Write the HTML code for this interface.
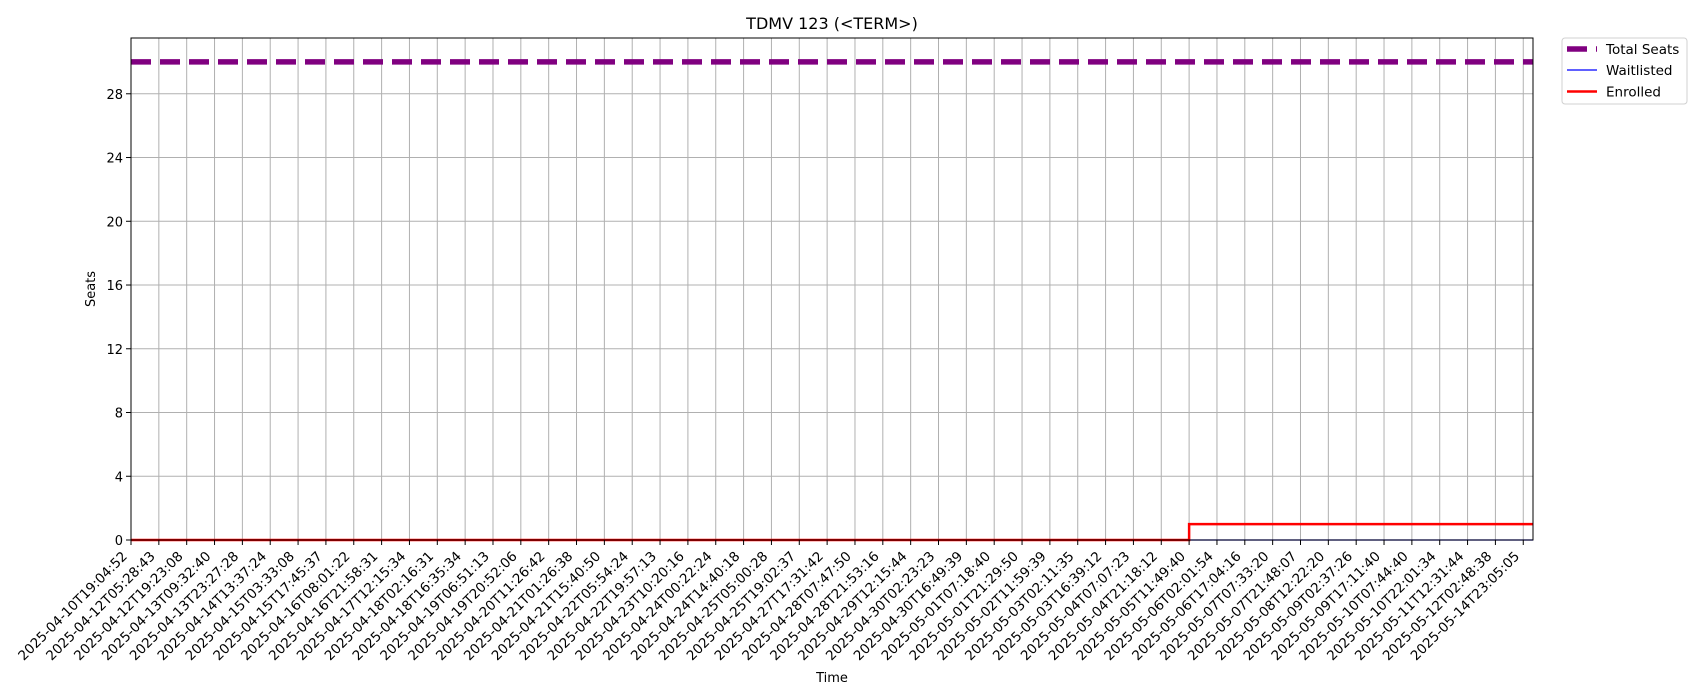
<!DOCTYPE html>
<html><head><meta charset="utf-8"><style>
html,body{margin:0;padding:0;background:#fff;}
svg{display:block;font-family:"DejaVu Sans","Liberation Sans",sans-serif;}
</style></head><body>
<svg id="chart" width="1700" height="700" viewBox="0 0 1700 700" xmlns="http://www.w3.org/2000/svg">
<text x="832" y="29" font-size="16" text-anchor="middle">TDMV 123 (&lt;TERM&gt;)</text>
<text x="832" y="682" font-size="13" text-anchor="middle">Time</text>
<text x="0" y="0" font-size="13" text-anchor="middle" transform="translate(95,289) rotate(-90)">Seats</text>
<g id="grid"></g><g id="series"></g><g id="axes"></g>
<g>
<rect x="1562" y="38" width="125" height="66" rx="3" fill="#fff" stroke="#d0d0d0"/>
<line x1="1567" y1="49" x2="1597" y2="49" stroke="#800080" stroke-width="5.5" stroke-dasharray="20 9"/>
<text x="1606" y="54" font-size="13.5">Total Seats</text>
<line x1="1567" y1="70" x2="1597" y2="70" stroke="#0000ff" stroke-width="1.2"/>
<text x="1606" y="75" font-size="13.5">Waitlisted</text>
<line x1="1567" y1="91.5" x2="1597" y2="91.5" stroke="#ff0000" stroke-width="2.5"/>
<text x="1606" y="96.5" font-size="13.5">Enrolled</text>
</g>
</svg>
<script>
const categories = ["2025-04-10T19:04:52","2025-04-12T05:28:43","2025-04-12T19:23:08","2025-04-13T09:32:40","2025-04-13T23:27:28","2025-04-14T13:37:24","2025-04-15T03:33:08","2025-04-15T17:45:37","2025-04-16T08:01:22","2025-04-16T21:58:31","2025-04-17T12:15:34","2025-04-18T02:16:31","2025-04-18T16:35:34","2025-04-19T06:51:13","2025-04-19T20:52:06","2025-04-20T11:26:42","2025-04-21T01:26:38","2025-04-21T15:40:50","2025-04-22T05:54:24","2025-04-22T19:57:13","2025-04-23T10:20:16","2025-04-24T00:22:24","2025-04-24T14:40:18","2025-04-25T05:00:28","2025-04-25T19:02:37","2025-04-27T17:31:42","2025-04-28T07:47:50","2025-04-28T21:53:16","2025-04-29T12:15:44","2025-04-30T02:23:23","2025-04-30T16:49:39","2025-05-01T07:18:40","2025-05-01T21:29:50","2025-05-02T11:59:39","2025-05-03T02:11:35","2025-05-03T16:39:12","2025-05-04T07:07:23","2025-05-04T21:18:12","2025-05-05T11:49:40","2025-05-06T02:01:54","2025-05-06T17:04:16","2025-05-07T07:33:20","2025-05-07T21:48:07","2025-05-08T12:22:20","2025-05-09T02:37:26","2025-05-09T17:11:40","2025-05-10T07:44:40","2025-05-10T22:01:34","2025-05-11T12:31:44","2025-05-12T02:48:38","2025-05-14T23:05:05"];
const totalSeats = [30,30,30,30,30,30,30,30,30,30,30,30,30,30,30,30,30,30,30,30,30,30,30,30,30,30,30,30,30,30,30,30,30,30,30,30,30,30,30,30,30,30,30,30,30,30,30,30,30,30,30];
const waitlisted = [0,0,0,0,0,0,0,0,0,0,0,0,0,0,0,0,0,0,0,0,0,0,0,0,0,0,0,0,0,0,0,0,0,0,0,0,0,0,0,0,0,0,0,0,0,0,0,0,0,0,0];
const enrolled = [0,0,0,0,0,0,0,0,0,0,0,0,0,0,0,0,0,0,0,0,0,0,0,0,0,0,0,0,0,0,0,0,0,0,0,0,0,0,1,1,1,1,1,1,1,1,1,1,1,1,1];
const yTicks = [0,4,8,12,16,20,24,28];
const yMax = 31.5;

const NS="http://www.w3.org/2000/svg";
const L=131,R=1533,T=38,B=540;
const xMaxIdx = 50.35;
function xs(i){return L+(R-L)*i/xMaxIdx;}
function ys(v){return B-(B-T)*v/yMax;}
function mk(tag,attrs,parent){const e=document.createElementNS(NS,tag);for(const k in attrs)e.setAttribute(k,attrs[k]);parent.appendChild(e);return e;}
const grid=document.getElementById('grid'),series=document.getElementById('series'),axes=document.getElementById('axes');

categories.forEach((c,i)=>{
  const x=xs(i);
  const g=mk('line',{x1:x,y1:T,x2:x,y2:B,stroke:'#b0b0b0','stroke-width':1},grid);
  
  
  const t=mk('line',{x1:x,y1:B,x2:x,y2:B+5,stroke:'#000','stroke-width':1},axes);
  
  
  const ax=x-3, ay=B+17;
  const lb=mk('text',{x:ax,y:ay,'font-size':13.5,'text-anchor':'end',transform:`rotate(-45 ${ax} ${ay})`},axes);
  lb.textContent=c;
  
  
});
yTicks.forEach(v=>{
  const y=ys(v);
  const g=mk('line',{x1:L,y1:y,x2:R,y2:y,stroke:'#b0b0b0','stroke-width':1},grid);
  
  
  const t=mk('line',{x1:L-5,y1:y,x2:L,y2:y,stroke:'#000','stroke-width':1},axes);
  
  
  const lb=mk('text',{x:L-8,y:y+5,'font-size':13,'text-anchor':'end'},axes);
  lb.textContent=v;
  
  
});
function stepPath(vals){
  let d=`M${xs(0)},${ys(vals[0])}`;
  for(let i=1;i<vals.length;i++){d+=` L${xs(i)},${ys(vals[i-1])} L${xs(i)},${ys(vals[i])}`;}
  d+=` L${R},${ys(vals[vals.length-1])}`;
  return d;
}
const p1=mk('path',{d:stepPath(totalSeats),fill:'none',stroke:'#800080','stroke-width':5.5,'stroke-dasharray':'20 9'},series);


const p2=mk('path',{d:stepPath(waitlisted),fill:'none',stroke:'#0000ff','stroke-width':1.2},series);


const p3=mk('path',{d:stepPath(enrolled),fill:'none',stroke:'#ff0000','stroke-width':2.5},series);


const frame=mk('rect',{x:L,y:T,width:R-L,height:B-T,fill:'none',stroke:'#000','stroke-width':1},axes);


</script>
</body></html>
